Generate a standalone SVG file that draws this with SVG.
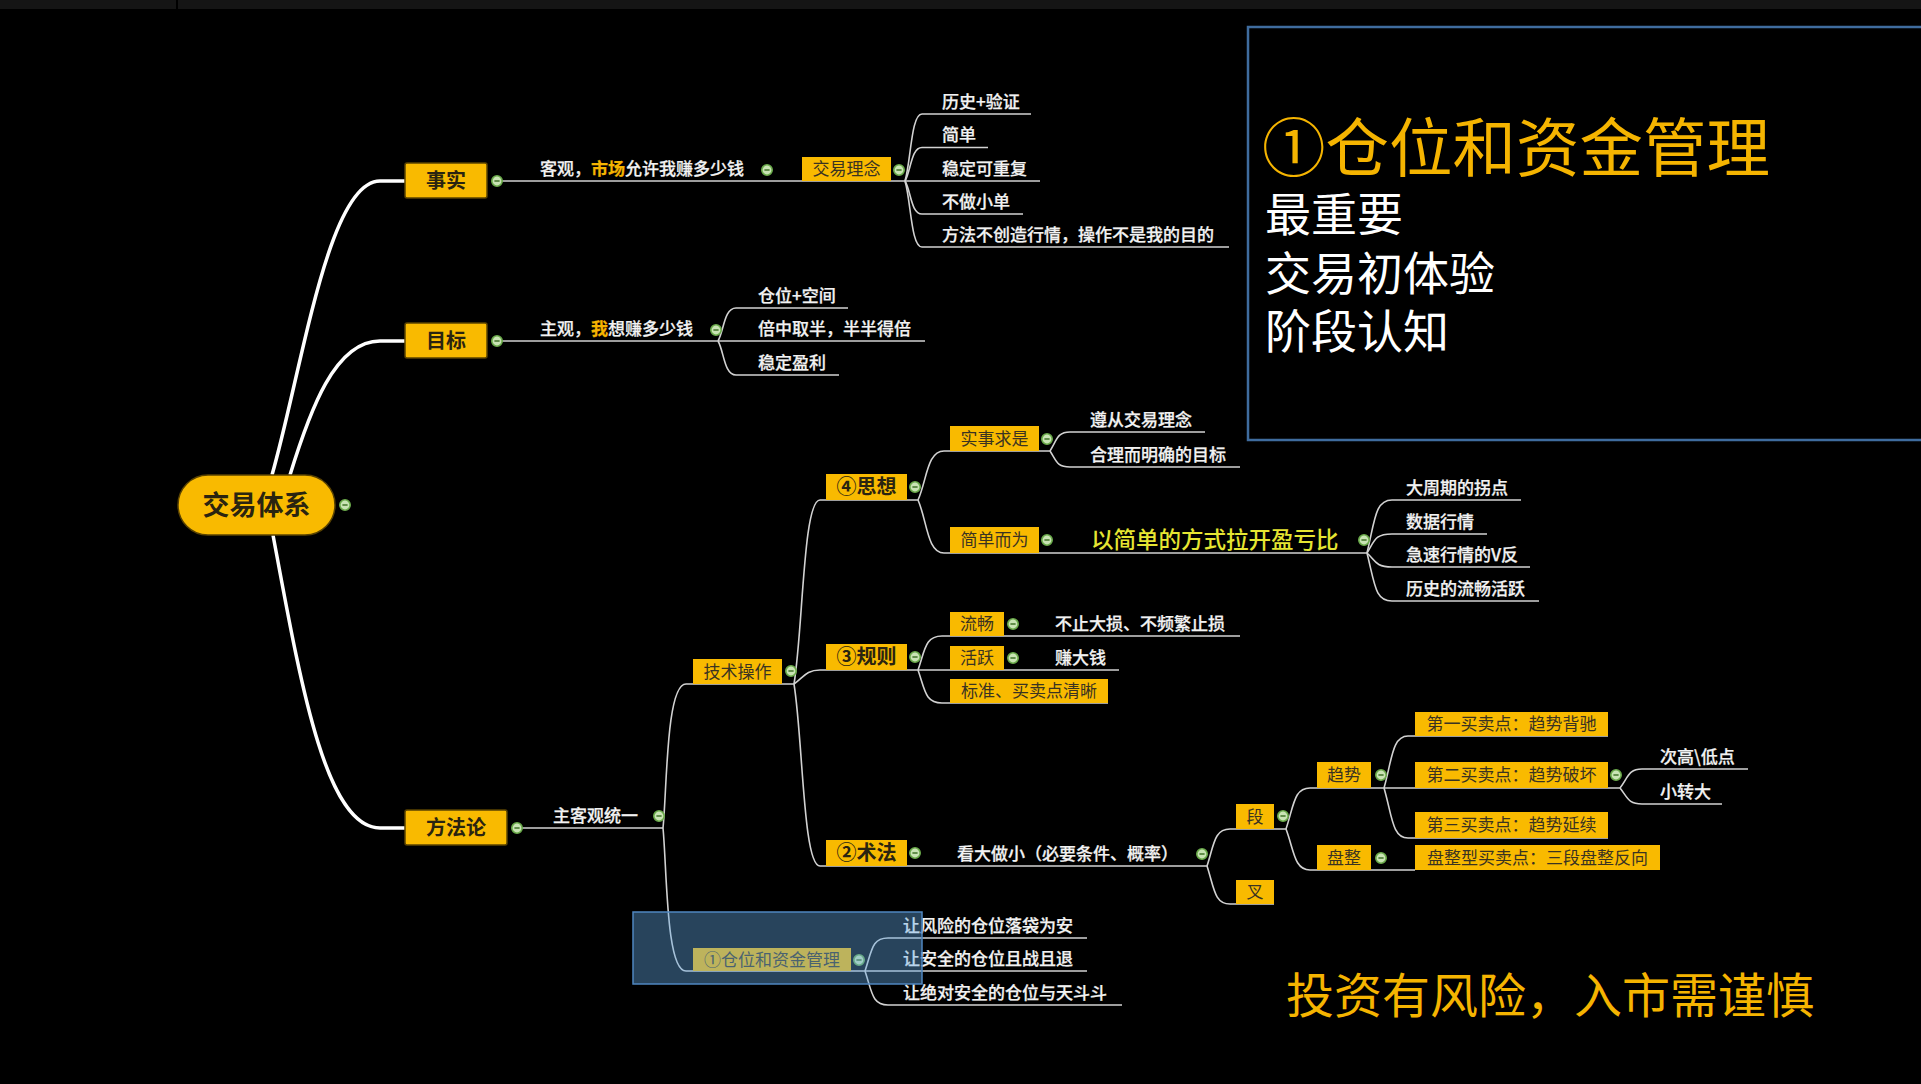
<svg xmlns="http://www.w3.org/2000/svg" width="1921" height="1084" viewBox="0 0 1921 1084">
<defs>
<style>
.t{font-family:"Noto Sans CJK SC","Noto Sans",sans-serif;}
.w{fill:#f2f2f2;font-size:17px;font-weight:500;stroke:#f2f2f2;stroke-width:0.25;}
.bx{fill:#f9ba00;}
.bt{fill:#3a3322;font-size:17px;text-anchor:middle;}
.bt2{fill:#2a2410;font-size:20px;font-weight:bold;text-anchor:middle;}
.mn{fill:#f9ba00;stroke:#5a4300;stroke-width:1.5;}
.mt{fill:#2a2410;font-size:20px;font-weight:bold;text-anchor:middle;}
.cn{fill:none;stroke:#d2d2d2;stroke-width:1.6;}
.mc{fill:none;stroke:#ffffff;stroke-width:3.5;}
.hi{fill:#f5b400;stroke:#f5b400;}
</style>
<g id="col"><circle r="5.2" fill="#c9e4b4" stroke="#6aaa4a" stroke-width="1.6"/><line x1="-2.6" y1="0" x2="2.6" y2="0" stroke="#4a7a32" stroke-width="1.6"/></g>
</defs>
<rect x="0" y="0" width="1921" height="1084" fill="#000"/>
<rect x="0" y="0" width="1921" height="9" fill="#151515"/>
<rect x="176" y="0" width="2" height="9" fill="#000"/>

<g id="connectors">
<path class="mc" d="M272,475 C302,370 328,181 380,181 L405,181"/>
<path class="mc" d="M290,475 C310,410 335,341 380,341 L405,341"/>
<path class="mc" d="M273,535 C300,680 325,828 380,828 L405,828"/>
<path class="cn" d="M502,181 L1040,181"/>
<path class="cn" d="M905,181 C911,161 911,114 922,114 L1031,114"/>
<path class="cn" d="M905,181 C911,171 911,147.5 922,147.5 L988,147.5"/>
<path class="cn" d="M905,181 C911,191 911,214 922,214 L1023,214"/>
<path class="cn" d="M905,181 C911,201 911,247 922,247 L1229,247"/>
<path class="cn" d="M502,341 L925,341"/>
<path class="cn" d="M718,341 C724,331 724,308 736,308 L848,308"/>
<path class="cn" d="M718,341 C724,351 724,375 736,375 L839,375"/>
<path class="cn" d="M522,828 L663,828"/>
<path class="cn" d="M663,828 C667,790 666,684 686,684 L794,684"/>
<path class="cn" d="M663,828 C667,870 666,971 686,971 L865,971"/>
<path class="cn" d="M794,684 C803,630 803,500 820,500 L918,500"/>
<path class="cn" d="M794,684 C803,678 806,670 820,670 L918,670"/>
<path class="cn" d="M794,684 C803,740 803,866 820,866 L1207,866"/>
<path class="cn" d="M918,500 C927,480 927,451 944,451 L1050,451"/>
<path class="cn" d="M918,500 C927,520 927,553 944,553 L1367,553"/>
<path class="cn" d="M1050,451 C1057,440 1057,432 1070,432 L1205,432"/>
<path class="cn" d="M1050,451 C1057,462 1057,467 1070,467 L1240,467"/>
<path class="cn" d="M1367,553 C1375,520 1375,500 1392,500 L1521,500"/>
<path class="cn" d="M1367,553 C1375,540 1375,534 1392,534 L1487,534"/>
<path class="cn" d="M1367,553 C1375,560 1375,567 1392,567 L1530,567"/>
<path class="cn" d="M1367,553 C1375,585 1375,601 1392,601 L1539,601"/>
<path class="cn" d="M918,670 C925,650 925,636 942,636 L1240,636"/>
<path class="cn" d="M918,670 L1119,670"/>
<path class="cn" d="M918,670 C925,690 925,703 942,703 L1108,703"/>
<path class="cn" d="M1207,866 C1214,845 1214,829 1230,829 L1286,829"/>
<path class="cn" d="M1207,866 C1214,887 1214,904 1230,904 L1274,904"/>
<path class="cn" d="M1286,829 C1294,805 1294,788 1310,788 L1384,788"/>
<path class="cn" d="M1286,829 C1294,850 1294,870 1310,870 L1415,870"/>
<path class="cn" d="M1384,788 C1392,760 1392,736 1408,736 L1608,736"/>
<path class="cn" d="M1384,788 L1620,788"/>
<path class="cn" d="M1384,788 C1392,815 1392,838 1408,838 L1608,838"/>
<path class="cn" d="M1620,788 C1628,778 1628,769 1642,769 L1748,769"/>
<path class="cn" d="M1620,788 C1628,798 1628,804 1642,804 L1722,804"/>
<path class="cn" d="M865,971 C872,950 872,938 888,938 L1087,938"/>
<path class="cn" d="M865,971 L1087,971"/>
<path class="cn" d="M865,971 C872,992 872,1005 888,1005 L1122,1005"/>
</g>

<g id="root"><rect class="mn" x="178" y="475" width="157" height="60" rx="30"/><text class="t" x="256.5" y="515" font-size="27" font-weight="bold" fill="#2a2410" text-anchor="middle">交易体系</text><use href="#col" x="345" y="505"/></g>

<g id="n-shishi"><rect class="mn" x="405" y="163" width="82" height="35" rx="2"/><text class="t mt" x="446" y="188">事实</text><use href="#col" x="497" y="181"/></g>
<g id="n-mubiao"><rect class="mn" x="405" y="323" width="82" height="35" rx="2"/><text class="t mt" x="446" y="348">目标</text><use href="#col" x="497" y="341"/></g>
<g id="n-fangfalun"><rect class="mn" x="405" y="810" width="102" height="35" rx="2"/><text class="t mt" x="456" y="835">方法论</text><use href="#col" x="517" y="828"/></g>

<g id="n-keguan"><text class="t w" x="540" y="175">客观，<tspan class="hi" font-weight="bold">市场</tspan>允许我赚多少钱</text><use href="#col" x="767" y="170"/></g>
<g id="n-linian"><rect class="bx" x="802" y="157" width="89" height="24"/><text class="t bt" x="846.5" y="175">交易理念</text><use href="#col" x="899" y="170"/></g>
<g id="n-l1"><text class="t w" x="942" y="108">历史+验证</text></g>
<g id="n-l2"><text class="t w" x="942" y="141">简单</text></g>
<g id="n-l3"><text class="t w" x="942" y="175">稳定可重复</text></g>
<g id="n-l4"><text class="t w" x="942" y="208">不做小单</text></g>
<g id="n-l5"><text class="t w" x="942" y="241">方法不创造行情，操作不是我的目的</text></g>

<g id="n-zhuguan"><text class="t w" x="540" y="335">主观，<tspan class="hi" font-weight="bold">我</tspan>想赚多少钱</text><use href="#col" x="716" y="330"/></g>
<g id="n-m1"><text class="t w" x="758" y="302">仓位+空间</text></g>
<g id="n-m2"><text class="t w" x="758" y="335">倍中取半，半半得倍</text></g>
<g id="n-m3"><text class="t w" x="758" y="369">稳定盈利</text></g>

<g id="n-zhukeguan"><text class="t w" x="553" y="822">主客观统一</text><use href="#col" x="659" y="816"/></g>
<g id="n-jishu"><rect class="bx" x="693" y="659" width="89" height="25"/><text class="t bt" x="737.5" y="678">技术操作</text><use href="#col" x="791" y="671"/></g>

<g id="n-sixiang"><rect class="bx" x="826" y="474" width="81" height="26"/><text class="t bt2" x="866.5" y="494">④思想</text><use href="#col" x="915" y="487"/></g>
<g id="n-guize"><rect class="bx" x="826" y="644" width="81" height="26"/><text class="t bt2" x="866.5" y="664">③规则</text><use href="#col" x="915" y="657"/></g>
<g id="n-shufa"><rect class="bx" x="826" y="840" width="81" height="26"/><text class="t bt2" x="866.5" y="860">②术法</text><use href="#col" x="915" y="853"/></g>

<g id="n-shishiqiushi"><rect class="bx" x="950" y="426" width="89" height="25"/><text class="t bt" x="994.5" y="445">实事求是</text><use href="#col" x="1047" y="439"/></g>
<g id="n-s1"><text class="t w" x="1090" y="426">遵从交易理念</text></g>
<g id="n-s2"><text class="t w" x="1090" y="461">合理而明确的目标</text></g>
<g id="n-jiandan"><rect class="bx" x="950" y="527" width="89" height="26"/><text class="t bt" x="994.5" y="546">简单而为</text><use href="#col" x="1047" y="540"/></g>
<g id="n-yijiandan"><text class="t" x="1091" y="548" font-size="22.5" font-weight="500" fill="#e6e632">以简单的方式拉开盈亏比</text><use href="#col" x="1364" y="540"/></g>
<g id="n-j1"><text class="t w" x="1406" y="494">大周期的拐点</text></g>
<g id="n-j2"><text class="t w" x="1406" y="528">数据行情</text></g>
<g id="n-j3"><text class="t w" x="1406" y="561">急速行情的V反</text></g>
<g id="n-j4"><text class="t w" x="1406" y="595">历史的流畅活跃</text></g>

<g id="n-liuchang"><rect class="bx" x="950" y="612" width="54" height="24"/><text class="t bt" x="977" y="630">流畅</text><use href="#col" x="1013" y="624"/></g>
<g id="n-lc1"><text class="t w" x="1055" y="630">不止大损、不频繁止损</text></g>
<g id="n-huoyue"><rect class="bx" x="950" y="646" width="54" height="24"/><text class="t bt" x="977" y="664">活跃</text><use href="#col" x="1013" y="658"/></g>
<g id="n-hy1"><text class="t w" x="1055" y="664">赚大钱</text></g>
<g id="n-biaozhun"><rect class="bx" x="950" y="679" width="158" height="24"/><text class="t bt" x="1029" y="697">标准、买卖点清晰</text></g>

<g id="n-kanda"><text class="t w" x="957" y="860">看大做小（必要条件、概率）</text><use href="#col" x="1202" y="854"/></g>
<g id="n-duan"><rect class="bx" x="1236" y="804" width="38" height="25"/><text class="t bt" x="1255" y="823">段</text><use href="#col" x="1283" y="816"/></g>
<g id="n-cha"><rect class="bx" x="1236" y="880" width="38" height="24"/><text class="t bt" x="1255" y="898">叉</text></g>
<g id="n-qushi"><rect class="bx" x="1317" y="762" width="54" height="26"/><text class="t bt" x="1344" y="781">趋势</text><use href="#col" x="1381" y="775"/></g>
<g id="n-panzheng"><rect class="bx" x="1317" y="845" width="54" height="25"/><text class="t bt" x="1344" y="864">盘整</text><use href="#col" x="1381" y="858"/></g>
<g id="n-b1"><rect class="bx" x="1415" y="712" width="193" height="24"/><text class="t bt" x="1511.5" y="730">第一买卖点：趋势背驰</text></g>
<g id="n-b2"><rect class="bx" x="1415" y="762" width="193" height="26"/><text class="t bt" x="1511.5" y="781">第二买卖点：趋势破坏</text><use href="#col" x="1616" y="775"/></g>
<g id="n-b3"><rect class="bx" x="1415" y="812" width="193" height="26"/><text class="t bt" x="1511.5" y="831">第三买卖点：趋势延续</text></g>
<g id="n-b4"><rect class="bx" x="1415" y="845" width="245" height="25"/><text class="t bt" x="1537.5" y="864">盘整型买卖点：三段盘整反向</text></g>
<g id="n-c1"><text class="t w" x="1660" y="763">次高\低点</text></g>
<g id="n-c2"><text class="t w" x="1660" y="798">小转大</text></g>

<g id="n-cangwei"><rect class="bx" x="693" y="948" width="158" height="23"/><text class="t bt" x="772" y="966">①仓位和资金管理</text><use href="#col" x="859" y="960"/></g>
<g id="n-cw1"><text class="t w" x="903" y="932">让风险的仓位落袋为安</text></g>
<g id="n-cw2"><text class="t w" x="903" y="965">让安全的仓位且战且退</text></g>
<g id="n-cw3"><text class="t w" x="903" y="999">让绝对安全的仓位与天斗斗</text></g>

<rect id="selection" x="633" y="912" width="289" height="72" fill="#64aae6" fill-opacity="0.4" stroke="#4f86c0" stroke-width="1.5"/>

<g id="panel">
<rect x="1248" y="27" width="700" height="413" fill="none" stroke="#3f6c9e" stroke-width="2.5"/>
<text class="t" font-size="46" fill="#ffffff"><tspan x="1262" y="171" font-size="63.5" fill="#f5b400">①仓位和资金管理</tspan><tspan x="1265" y="231">最重要</tspan><tspan x="1265" y="290">交易初体验</tspan><tspan x="1265" y="348">阶段认知</tspan></text>
</g>
<text id="warning" class="t" x="1286" y="1013" font-size="48" fill="#f5b400">投资有风险，入市需谨慎</text>
</svg>
